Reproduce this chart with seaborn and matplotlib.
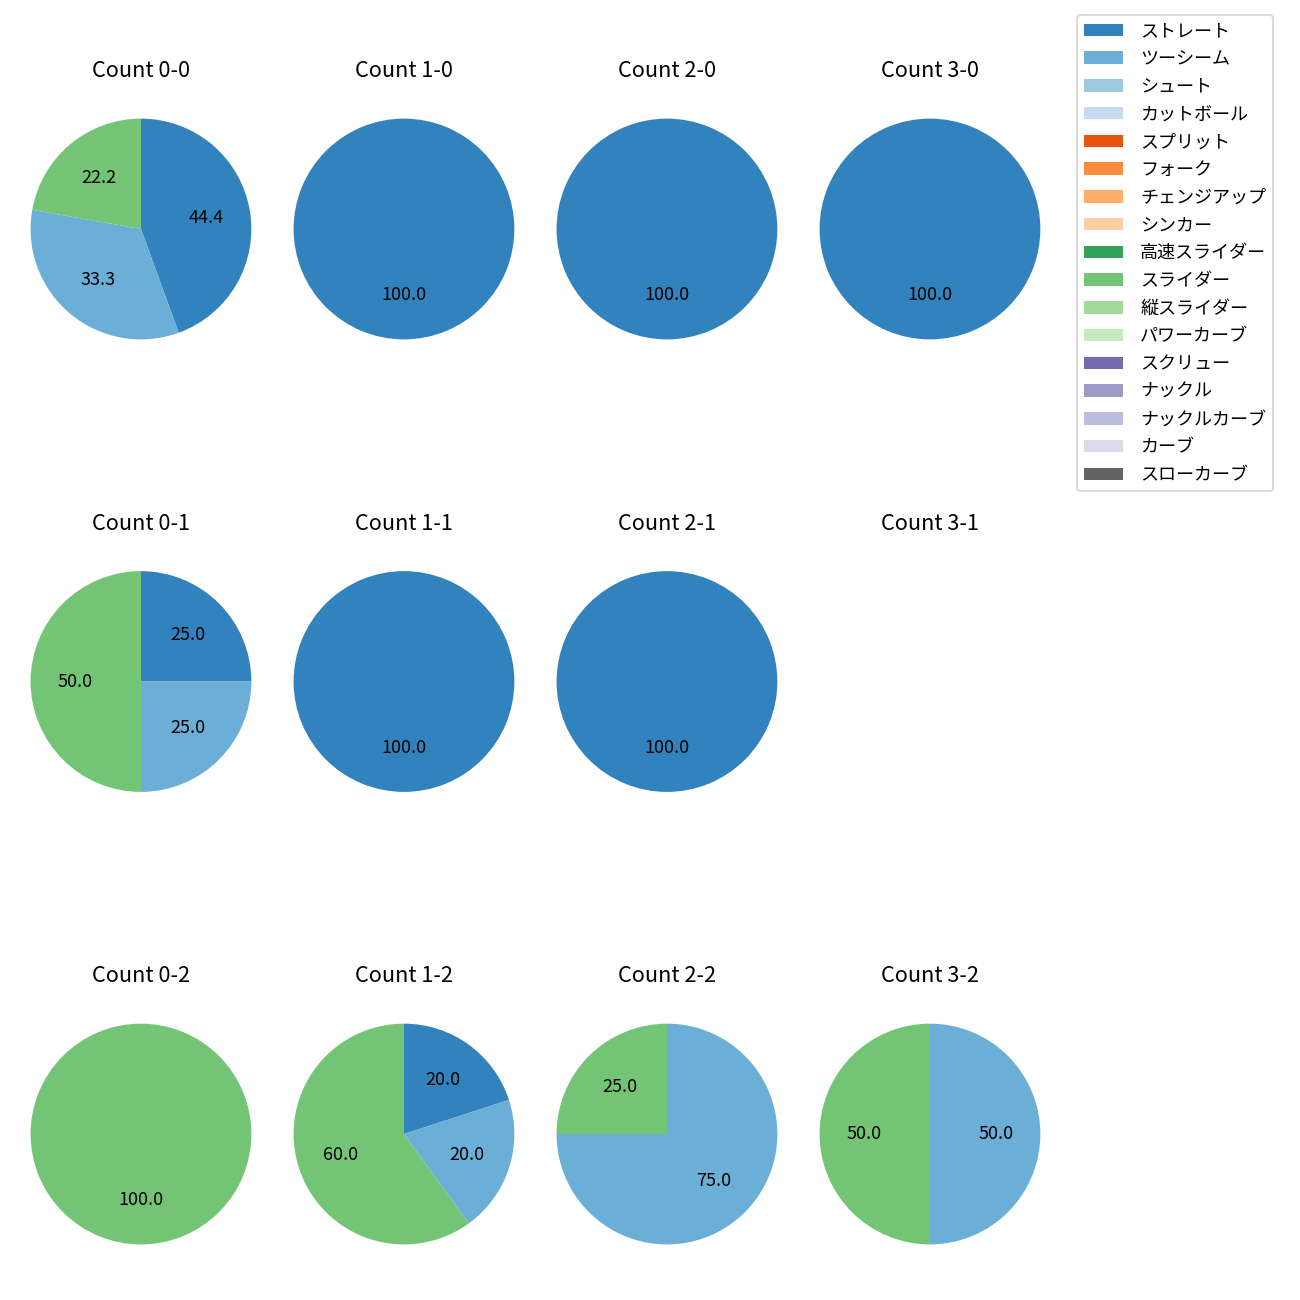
import numpy as np
import seaborn as sns
import matplotlib
matplotlib.use("Agg")
import matplotlib.pyplot as plt
from matplotlib.patches import Patch

plt.rcParams['font.family'] = ['Noto Sans CJK JP', 'DejaVu Sans']

PITCH_TYPES = ['ストレート', 'ツーシーム', 'シュート', 'カットボール', 'スプリット', 'フォーク',
               'チェンジアップ', 'シンカー', '高速スライダー', 'スライダー', '縦スライダー',
               'パワーカーブ', 'スクリュー', 'ナックル', 'ナックルカーブ', 'カーブ', 'スローカーブ']

# ball-strike order, row = strikes, column = balls
COUNT_LABELS = ['0-0', '1-0', '2-0', '3-0',
                '0-1', '1-1', '2-1', '3-1',
                '0-2', '1-2', '2-2', '3-2']

PANEL_PITCHES = [
    ['ストレート', 'ツーシーム', 'スライダー'],
    ['ストレート'],
    ['ストレート'],
    ['ストレート'],
    ['ストレート', 'ツーシーム', 'スライダー'],
    ['ストレート'],
    ['ストレート'],
    [],
    ['スライダー'],
    ['ストレート', 'ツーシーム', 'スライダー'],
    ['ツーシーム', 'スライダー'],
    ['ツーシーム', 'スライダー'],
]
PANEL_VALUES = [
    [4, 3, 2],
    [1],
    [1],
    [1],
    [1, 1, 2],
    [1],
    [1],
    [],
    [1],
    [1, 1, 3],
    [3, 1],
    [1, 1],
]

palette = sns.color_palette('tab20c', 20)[:len(PITCH_TYPES)]
color_map = dict(zip(PITCH_TYPES, palette))

fig, axes = plt.subplots(3, 4, figsize=(10, 10), dpi=130)
fig.subplots_adjust(left=0.0023, right=0.8215, top=0.93, bottom=0.0215,
                    wspace=-0.047, hspace=0.6395)

for ax, label, pitches, values in zip(axes.flat, COUNT_LABELS, PANEL_PITCHES, PANEL_VALUES):
    if len(values) > 0:
        ax.pie(values, colors=[color_map[p] for p in pitches], autopct='%.1f',
               startangle=90, counterclock=False)
    else:
        # empty count: keep the same box so the title lines up
        ax.set(xlim=(-1.25, 1.25), ylim=(-1.25, 1.25), aspect='equal')
        ax.axis('off')
    ax.set_title(f'Count {label}', pad=7.6)

handles = [Patch(facecolor=color_map[p], label=p) for p in PITCH_TYPES]
fig.legend(handles=handles, loc='upper left', bbox_to_anchor=(0.8215, 0.9954),
           handlelength=2.15, handletextpad=0.95, labelspacing=0.54)

plt.savefig('out.png')
